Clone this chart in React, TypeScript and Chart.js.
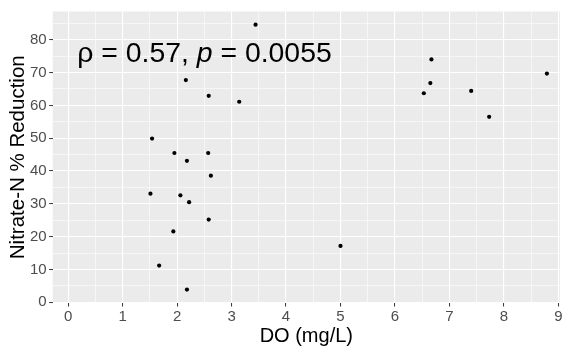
import React, { useEffect, useRef } from "react";
import { Chart, registerables } from "chart.js";

Chart.register(...registerables);

const doValues = [3.44, 2.16, 2.58, 3.14, 1.54, 1.95, 2.18, 2.57, 2.62, 1.51, 2.06, 2.22, 2.58, 1.93, 1.67, 2.18, 5.0, 6.67, 6.65, 6.53, 7.4, 7.73, 8.79];
const reductionValues = [84.6, 67.7, 62.9, 61.1, 49.9, 45.5, 43.1, 45.5, 38.6, 33.1, 32.6, 30.5, 25.2, 21.6, 11.2, 3.9, 17.2, 74.0, 66.8, 63.7, 64.4, 56.5, 69.7];

const xTickValues = [0, 0.5, 1, 1.5, 2, 2.5, 3, 3.5, 4, 4.5, 5, 5.5, 6, 6.5, 7, 7.5, 8, 8.5, 9];
const yTickValues = [0, 5, 10, 15, 20, 25, 30, 35, 40, 45, 50, 55, 60, 65, 70, 75, 80, 85];
const xMajor = [0, 1, 2, 3, 4, 5, 6, 7, 8, 9];
const yMajor = [0, 10, 20, 30, 40, 50, 60, 70, 80];

const xTitle = "DO (mg/L)";
const yTitle = "Nitrate-N % Reduction";
const labelParts = ["ρ = 0.57, ", "p", " = 0.0055"];
const labelPos = { x: 0.165, y: 75.6 };

const FONT = "'Liberation Sans', Arial, sans-serif";

const panelBg = {
  id: "panelBg",
  beforeDraw(chart: any) {
    const { ctx, chartArea } = chart;
    ctx.save();
    ctx.fillStyle = "#EBEBEB";
    ctx.fillRect(chartArea.left, chartArea.top, chartArea.right - chartArea.left, chartArea.bottom - chartArea.top);
    ctx.restore();
  },
};

const annot = {
  id: "annot",
  afterDatasetsDraw(chart: any) {
    const { ctx, scales } = chart;
    const x0 = scales.x.getPixelForValue(labelPos.x);
    const y0 = scales.y.getPixelForValue(labelPos.y);
    ctx.save();
    ctx.fillStyle = "#000000";
    ctx.textBaseline = "middle";
    ctx.textAlign = "left";
    let x = x0;
    labelParts.forEach((t, i) => {
      ctx.font = (i === 1 ? "italic " : "") + "28.4px " + FONT;
      ctx.fillText(t, x, y0);
      x += ctx.measureText(t).width;
    });
    ctx.restore();
  },
};

export default function App() {
  const ref = useRef<HTMLCanvasElement>(null);
  useEffect(() => {
    document.body.style.margin = "0";
    const canvas = ref.current!;
    const data = doValues.map((v, i) => ({ x: v, y: reductionValues[i] }));
    const chart = new Chart(canvas, {
      type: "scatter",
      data: {
        datasets: [
          {
            data,
            backgroundColor: "#000000",
            borderWidth: 0,
            pointRadius: 2.1,
          },
        ],
      },
      plugins: [panelBg, annot],
      options: {
        animation: false,
        responsive: false,
        devicePixelRatio: 1,
        layout: { padding: { top: 6.7, right: 2.3, bottom: 0, left: 0 } },
        plugins: { legend: { display: false }, tooltip: { enabled: false } },
        scales: {
          x: {
            type: "linear",
            min: -0.285,
            max: 9.03,
            afterBuildTicks: (scale: any) => {
              scale.ticks = xTickValues.map((v) => ({ value: v }));
            },
            afterFit: (scale: any) => {
              scale.height = 49;
            },
            border: { display: false },
            grid: {
              color: "#FFFFFF",
              lineWidth: (c: any) => (xMajor.includes(c.tick?.value) ? 1.1 : 0.55),
              tickColor: (c: any) => (xMajor.includes(c.tick?.value) ? "#333333" : "rgba(0,0,0,0)"),
              tickLength: 3.5,
              tickWidth: 1,
              drawTicks: true,
            },
            ticks: {
              autoSkip: false,
              maxRotation: 0,
              padding: 1.5,
              color: "#4D4D4D",
              font: { family: FONT, size: 15 },
              callback: (v: any) => (xMajor.includes(v) ? String(v) : ""),
            },
            title: {
              display: true,
              text: xTitle,
              color: "#000000",
              font: { family: FONT, size: 20 },
              padding: { top: 0, bottom: 4 },
            },
          },
          y: {
            type: "linear",
            min: -0.2,
            max: 88.6,
            afterBuildTicks: (scale: any) => {
              scale.ticks = yTickValues.map((v) => ({ value: v }));
            },
            afterFit: (scale: any) => {
              scale.width = 52.7;
            },
            border: { display: false },
            grid: {
              color: "#FFFFFF",
              lineWidth: (c: any) => (yMajor.includes(c.tick?.value) ? 1.1 : 0.55),
              tickColor: (c: any) => (yMajor.includes(c.tick?.value) ? "#333333" : "rgba(0,0,0,0)"),
              tickLength: 3.5,
              tickWidth: 1,
              drawTicks: true,
            },
            ticks: {
              autoSkip: false,
              padding: 2.5,
              color: "#4D4D4D",
              font: { family: FONT, size: 15 },
              callback: (v: any) => (yMajor.includes(v) ? String(v) : ""),
            },
            title: {
              display: true,
              text: yTitle,
              color: "#000000",
              font: { family: FONT, size: 20.5 },
              padding: { top: 5.7, bottom: 0 },
            },
          },
        },
      },
    });
    return () => chart.destroy();
  }, []);
  return <canvas ref={ref} width={564} height={352} style={{ display: "block" }} />;
}
